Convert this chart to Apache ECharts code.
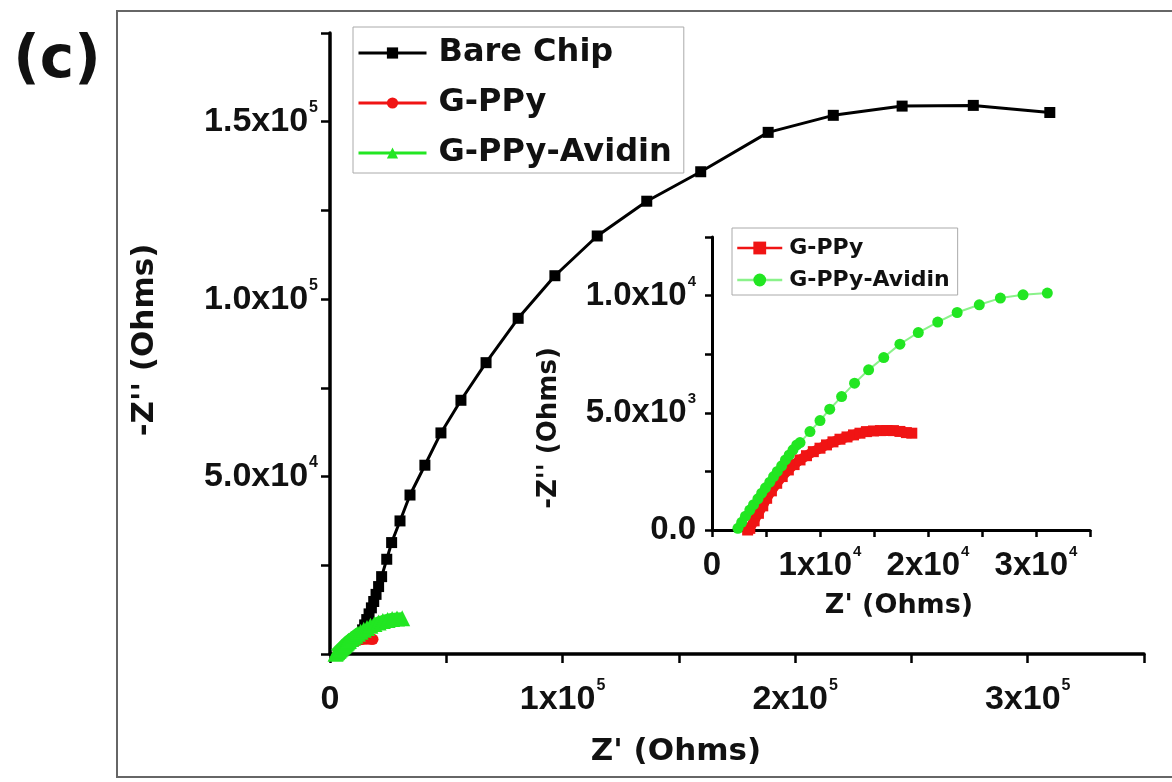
<!DOCTYPE html>
<html><head><meta charset="utf-8">
<script src="https://cdn.jsdelivr.net/npm/echarts@6/dist/echarts.min.js"></script>
<style>html,body{margin:0;padding:0;background:#fff}#c{width:1172px;height:782px}</style>
</head><body><div id="c"></div>
<script>
// ---- data (Ohms) ----
const bareChipZre = [14000, 14900, 15800, 16800, 17800, 18800, 19800, 20900, 22200, 24400, 26500, 30100, 34400, 40800, 47700, 56300, 67100, 80900, 96700, 114900, 136200, 159400, 188400, 216400, 246000, 276600, 309500];
const bareChipZim = [6800, 8200, 9700, 11300, 13000, 14800, 16800, 19000, 21800, 26700, 31400, 37500, 44800, 53200, 62300, 71500, 82100, 94600, 106600, 117800, 127600, 135900, 147000, 151800, 154400, 154600, 152600];

const gppyZre = [3300, 3500, 3900, 4300, 4700, 5060, 5500, 5990, 6500, 7070, 7600, 8150, 8750, 9380, 10000, 10600, 11200, 11850, 12500, 13100, 13700, 14300, 14950, 15600, 16200, 16800, 17400, 18000, 18500];
const gppyZim = [0, 70, 390, 712, 1030, 1353, 1670, 1993, 2280, 2562, 2790, 2989, 3170, 3343, 3490, 3630, 3760, 3873, 3970, 4057, 4130, 4197, 4225, 4240, 4245, 4240, 4205, 4155, 4130];

const avidinZre = [2400, 2750, 3100, 3500, 3850, 4250, 4600, 4950, 5350, 5700, 6050, 6450, 6800, 7150, 7500, 7850, 8150, 9070, 10000, 10900, 12000, 13200, 14500, 15900, 17400, 19100, 20900, 22700, 24750, 26700, 28800, 31050];
const avidinZim = [70, 330, 590, 850, 1080, 1330, 1570, 1800, 2040, 2280, 2500, 2740, 2990, 3200, 3420, 3630, 3728, 4197, 4667, 5154, 5692, 6264, 6832, 7357, 7929, 8425, 8869, 9279, 9608, 9894, 10035, 10108];

// ---- tick labels ----
const mainXTickValues = [0, 100000, 200000, 300000];
const mainXTickText = ['0', '1x10^5', '2x10^5', '3x10^5'];
const mainYTickValues = [50000, 100000, 150000];
const mainYTickText = ['5.0x10^4', '1.0x10^5', '1.5x10^5'];
const insetXTickValues = [0, 10000, 20000, 30000];
const insetXTickText = ['0', '1x10^4', '2x10^4', '3x10^4'];
const insetYTickValues = [0, 5000, 10000];
const insetYTickText = ['0.0', '5.0x10^3', '1.0x10^4'];

const zip = (a, b) => a.map((v, i) => [v, b[i]]);
const toRich = s => { const p = s.split('^'); return p.length > 1 ? '{a|' + p[0] + '}{b|' + p[1] + '}' : '{a|' + p[0] + '}'; };
const fmt = (vals, txt) => v => { const i = vals.indexOf(v); return i < 0 ? '' : toRich(txt[i]); };

const TICKF = 'Liberation Sans';
const richLbl = (fs, sfs) => ({
  a: { fontFamily: TICKF, fontWeight: 'bold', fontSize: fs, color: '#111', lineHeight: fs + 10 },
  b: { fontFamily: TICKF, fontWeight: 'bold', fontSize: sfs, color: '#111', verticalAlign: 'top', lineHeight: sfs, padding: [0, 0, 0, 1] }
});

const axBase = (w, tl) => ({
  axisLine: { show: true, onZero: false, lineStyle: { color: '#000', width: w } },
  axisTick: { show: true, inside: false, length: tl, lineStyle: { color: '#000', width: 2.5 } },
  splitLine: { show: false }
});

const chart = echarts.init(document.getElementById('c'), null, { renderer: 'canvas' });
const LEGF = 'DejaVu Sans';
const RED = '#f01414', GREEN = '#22e622';
chart.setOption({
  animation: false,
  backgroundColor: '#fff',
  grid: [
    { left: 330, top: 33, width: 814, height: 621 },
    { left: 712, top: 237, width: 378, height: 293 }
  ],
  xAxis: [
    Object.assign(axBase(3.5, 9), { gridIndex: 0, type: 'value', min: 0, max: 350000, interval: 50000,
      axisLabel: { margin: 24, formatter: fmt(mainXTickValues, mainXTickText), rich: richLbl(34, 16) } }),
    Object.assign(axBase(3, 7), { gridIndex: 1, type: 'value', min: 0, max: 35000, interval: 5000,
      axisLabel: { margin: 14, formatter: fmt(insetXTickValues, insetXTickText), rich: richLbl(33, 15) } })
  ],
  yAxis: [
    Object.assign(axBase(3.5, 9), { gridIndex: 0, type: 'value', min: 0, max: 175000, interval: 25000,
      axisLabel: { margin: 12, formatter: fmt(mainYTickValues, mainYTickText), rich: richLbl(34, 16) } }),
    Object.assign(axBase(3, 7), { gridIndex: 1, type: 'value', min: 0, max: 12500, interval: 2500,
      axisLabel: { margin: 16, formatter: fmt(insetYTickValues, insetYTickText), rich: richLbl(33, 15) } })
  ],
  legend: [
    { orient: 'vertical', left: 353, top: 27, padding: [8, 12, 2, 4], itemGap: 14,
      itemWidth: 68, itemHeight: 14, borderColor: '#aaa', borderWidth: 1,
      data: ['Bare Chip', 'G-PPy', 'G-PPy-Avidin'],
      lineStyle: { width: 3 },
      textStyle: { fontFamily: LEGF, fontWeight: 'bold', fontSize: 32, lineHeight: 36, color: '#111', padding: [0, 0, 0, 7] } },
    { orient: 'vertical', left: 732, top: 228, padding: [8, 8, 3, 4], itemGap: 8,
      itemWidth: 45, itemHeight: 16, borderColor: '#aaa', borderWidth: 1,
      data: ['G-PPy (inset)', 'G-PPy-Avidin (inset)'],
      formatter: n => n.replace(' (inset)', ''),
      lineStyle: { width: 2.5 },
      textStyle: { fontFamily: LEGF, fontWeight: 'bold', fontSize: 22, lineHeight: 24, color: '#111', padding: [0, 0, 0, 2] } }
  ],
  series: [
    { name: 'Bare Chip', type: 'line', xAxisIndex: 0, yAxisIndex: 0, data: zip(bareChipZre, bareChipZim),
      symbol: 'rect', symbolSize: 11, showAllSymbol: true, color: '#000',
      lineStyle: { color: '#000', width: 3 }, itemStyle: { color: '#000' } },
    { name: 'G-PPy', type: 'line', xAxisIndex: 0, yAxisIndex: 0, data: zip(gppyZre, gppyZim),
      symbol: 'circle', symbolSize: 11, showAllSymbol: true, color: RED,
      lineStyle: { color: RED, width: 8 }, itemStyle: { color: RED } },
    { name: 'G-PPy-Avidin', type: 'line', xAxisIndex: 0, yAxisIndex: 0, data: zip(avidinZre, avidinZim),
      symbol: 'triangle', symbolSize: 16, showAllSymbol: true, color: GREEN,
      lineStyle: { color: GREEN, width: 12 }, itemStyle: { color: GREEN } },
    { name: 'G-PPy (inset)', type: 'line', xAxisIndex: 1, yAxisIndex: 1, data: zip(gppyZre, gppyZim),
      symbol: 'rect', symbolSize: 11, showAllSymbol: true, color: RED,
      lineStyle: { color: RED, width: 10 }, itemStyle: { color: RED } },
    { name: 'G-PPy-Avidin (inset)', type: 'line', xAxisIndex: 1, yAxisIndex: 1, data: zip(avidinZre, avidinZim),
      symbol: 'circle', symbolSize: 11, showAllSymbol: true, color: GREEN,
      lineStyle: { color: '#8af28a', width: 2 }, itemStyle: { color: GREEN } }
  ],
  graphic: [
    { type: 'rect', shape: { x: 117, y: 11, width: 1100, height: 766 }, style: { fill: 'none', stroke: '#666', lineWidth: 2 }, silent: true, z: -10 },
    { type: 'text', x: 57, y: 62, style: { text: '(c)', font: 'bold 58px "DejaVu Sans"', fill: '#111', textAlign: 'center', textVerticalAlign: 'middle', align: 'center', verticalAlign: 'middle' } },
    { type: 'text', x: 145, y: 340, rotation: Math.PI / 2, style: { text: "-Z'' (Ohms)", font: 'bold 31px "DejaVu Sans"', fill: '#111', textAlign: 'center', textVerticalAlign: 'middle', align: 'center', verticalAlign: 'middle' } },
    { type: 'text', x: 676, y: 752, style: { text: "Z' (Ohms)", font: 'bold 31px "DejaVu Sans"', fill: '#111', textAlign: 'center', textVerticalAlign: 'middle', align: 'center', verticalAlign: 'middle' } },
    { type: 'text', x: 549, y: 428, rotation: Math.PI / 2, style: { text: "-Z'' (Ohms)", font: 'bold 26px "DejaVu Sans"', fill: '#111', textAlign: 'center', textVerticalAlign: 'middle', align: 'center', verticalAlign: 'middle' } },
    { type: 'text', x: 899, y: 606, style: { text: "Z' (Ohms)", font: 'bold 27px "DejaVu Sans"', fill: '#111', textAlign: 'center', textVerticalAlign: 'middle', align: 'center', verticalAlign: 'middle' } }
  ]
});
</script></body></html>
